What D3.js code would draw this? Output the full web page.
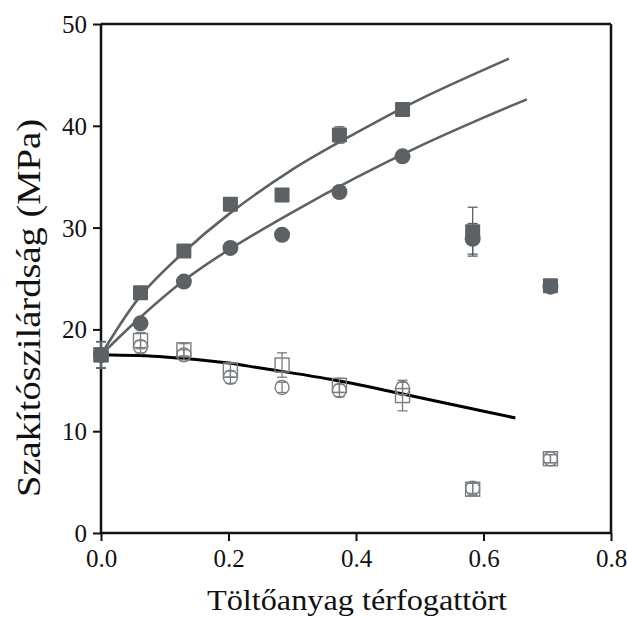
<!DOCTYPE html>
<html>
<head>
<meta charset="utf-8">
<style>
  body { margin: 0; background: white; }
</style>
<script src="https://d3js.org/d3.v7.min.js"></script>
</head>
<body>
<script>
var width = 627, height = 617;
var margin = {left: 101, right: 16, top: 24, bottom: 84};
var serif = "'Liberation Serif', 'Times New Roman', Times, serif";

// filler volume fraction
var fraction = [0, 0.062, 0.13, 0.203, 0.284, 0.374, 0.473, 0.583, 0.705];
// tensile strength (MPa)
var filledSquare = [17.5, 23.6, 27.7, 32.3, 33.2, 39.1, 41.6, 29.6, 24.3];
var filledSquareErr = [1.3, 0.5, 0.4, 0.4, 0.4, 0.8, 0.4, 2.4, 0.4];
var filledCircle = [17.5, 20.6, 24.7, 28.0, 29.3, 33.5, 37.0, 28.9, 24.2];
var filledCircleErr = [1.3, 0.4, 0.4, 0.4, 0.4, 0.4, 0.4, 1.5, 0.4];
var openSquare = [17.5, 18.9, 18.0, 16.0, 16.5, 14.5, 13.5, 4.3, 7.3];
var openSquareErr = [1.3, 0.8, 0.6, 0.7, 1.2, 0.7, 1.5, 0.6, 0.4];
var openCircle = [17.5, 18.3, 17.5, 15.3, 14.3, 14.0, 14.2, 4.4, 7.3];
var openCircleErr = [1.3, 0.6, 0.5, 0.6, 0.5, 0.6, 0.6, 0.5, 0.4];

// fitted model curves
var fitUpperX = [0, 0.062, 0.13, 0.2, 0.3, 0.4, 0.5, 0.64];
var fitUpperY = [17.5, 23.3, 27.6, 31.3, 35.7, 39.3, 42.6, 46.6];
var fitLowerX = [0, 0.062, 0.13, 0.2, 0.3, 0.4, 0.5, 0.6, 0.668];
var fitLowerY = [17.5, 21.2, 24.8, 27.8, 31.5, 34.9, 38.0, 40.8, 42.6];
var fitBlackX = [0, 0.1, 0.2, 0.25, 0.36, 0.47, 0.56, 0.65];
var fitBlackY = [17.5, 17.3, 16.7, 16.2, 15.1, 13.7, 12.5, 11.3];

var xTicks = [0, 0.2, 0.4, 0.6, 0.8];
var yTicks = [0, 10, 20, 30, 40, 50];

var gray = "#5c6165";
var lightGray = "#7a7e82";

var svg = d3.select("body").append("svg")
  .attr("width", width).attr("height", height);

var x = d3.scaleLinear().domain([0, 0.8]).range([margin.left, width - margin.right]);
var y = d3.scaleLinear().domain([0, 50]).range([height - margin.bottom, margin.top]);

// axes
var xAxis = svg.append("g").attr("transform", "translate(0," + y(0) + ")")
  .call(d3.axisBottom(x).tickValues(xTicks).tickFormat(d3.format(".1f")).tickSize(8).tickPadding(8));
var yAxis = svg.append("g").attr("transform", "translate(" + x(0) + ",0)")
  .call(d3.axisLeft(y).tickValues(yTicks).tickSize(8).tickPadding(6));
[xAxis, yAxis].forEach(function(a) {
  a.select(".domain").attr("stroke", "#111").attr("stroke-width", 2.5);
  a.selectAll(".tick line").attr("stroke", "#111").attr("stroke-width", 2);
  a.selectAll(".tick text").style("font-family", serif).style("font-size", "25px").attr("fill", "#111");
});
xAxis.select(".domain").attr("d", "M" + x(0) + ",0H" + x(0.8));
yAxis.select(".domain").attr("d", "M0," + y(0) + "V" + y(50));
yAxis.selectAll(".tick text").attr("dy", "0.34em");

// top and right frame
svg.append("line").attr("x1", x(0)).attr("x2", x(0.8)).attr("y1", y(50)).attr("y2", y(50))
  .attr("stroke", "#111").attr("stroke-width", 2.5);
svg.append("line").attr("x1", x(0.8)).attr("x2", x(0.8)).attr("y1", y(50)).attr("y2", y(0))
  .attr("stroke", "#111").attr("stroke-width", 2.5);

// curves
var line = d3.line().x(function(d) { return x(d[0]); }).y(function(d) { return y(d[1]); })
  .curve(d3.curveCatmullRom.alpha(0.5));
function drawFit(xs, ys, color, w) {
  svg.append("path").datum(d3.zip(xs, ys)).attr("d", line)
    .attr("fill", "none").attr("stroke", color).attr("stroke-width", w);
}
drawFit(fitUpperX, fitUpperY, gray, 2.6);
drawFit(fitLowerX, fitLowerY, gray, 2.6);
drawFit(fitBlackX, fitBlackY, "#000", 3);

// error bars
function drawErr(vals, errs, color) {
  var g = svg.append("g").attr("stroke", color).attr("stroke-width", 1.3);
  vals.forEach(function(v, i) {
    var cx = x(fraction[i]);
    g.append("line").attr("x1", cx).attr("x2", cx).attr("y1", y(v - errs[i])).attr("y2", y(v + errs[i]));
    [v - errs[i], v + errs[i]].forEach(function(e) {
      g.append("line").attr("x1", cx - 5).attr("x2", cx + 5).attr("y1", y(e)).attr("y2", y(e));
    });
  });
}

// open markers
drawErr(openCircle, openCircleErr, lightGray);
svg.append("g").selectAll("circle").data(openCircle).enter().append("circle")
  .attr("cx", function(d, i) { return x(fraction[i]); })
  .attr("cy", function(d) { return y(d); })
  .attr("r", 7).attr("fill", "none").attr("stroke", lightGray).attr("stroke-width", 1.4);
drawErr(openSquare, openSquareErr, lightGray);
svg.append("g").selectAll("rect").data(openSquare).enter().append("rect")
  .attr("x", function(d, i) { return x(fraction[i]) - 7; })
  .attr("y", function(d) { return y(d) - 7; })
  .attr("width", 14).attr("height", 14)
  .attr("fill", "none").attr("stroke", lightGray).attr("stroke-width", 1.4);

// filled markers
drawErr(filledCircle, filledCircleErr, gray);
svg.append("g").selectAll("circle").data(filledCircle).enter().append("circle")
  .attr("cx", function(d, i) { return x(fraction[i]); })
  .attr("cy", function(d) { return y(d); })
  .attr("r", 8).attr("fill", gray);
drawErr(filledSquare, filledSquareErr, gray);
svg.append("g").selectAll("rect").data(filledSquare).enter().append("rect")
  .attr("x", function(d, i) { return x(fraction[i]) - 7.5; })
  .attr("y", function(d) { return y(d) - 7.5; })
  .attr("width", 15).attr("height", 15).attr("rx", 1).attr("fill", gray);

// titles
svg.append("text")
  .attr("x", 357).attr("y", 610).attr("text-anchor", "middle")
  .attr("textLength", 300).attr("lengthAdjust", "spacingAndGlyphs")
  .style("font-family", serif).style("font-size", "29px").attr("fill", "#111")
  .text("Töltőanyag térfogattört");
svg.append("text")
  .attr("transform", "translate(40,308) rotate(-90)")
  .attr("text-anchor", "middle")
  .attr("textLength", 378).attr("lengthAdjust", "spacingAndGlyphs")
  .style("font-family", serif).style("font-size", "33px").attr("fill", "#111")
  .text("Szakítószilárdság (MPa)");
</script>
</body>
</html>
